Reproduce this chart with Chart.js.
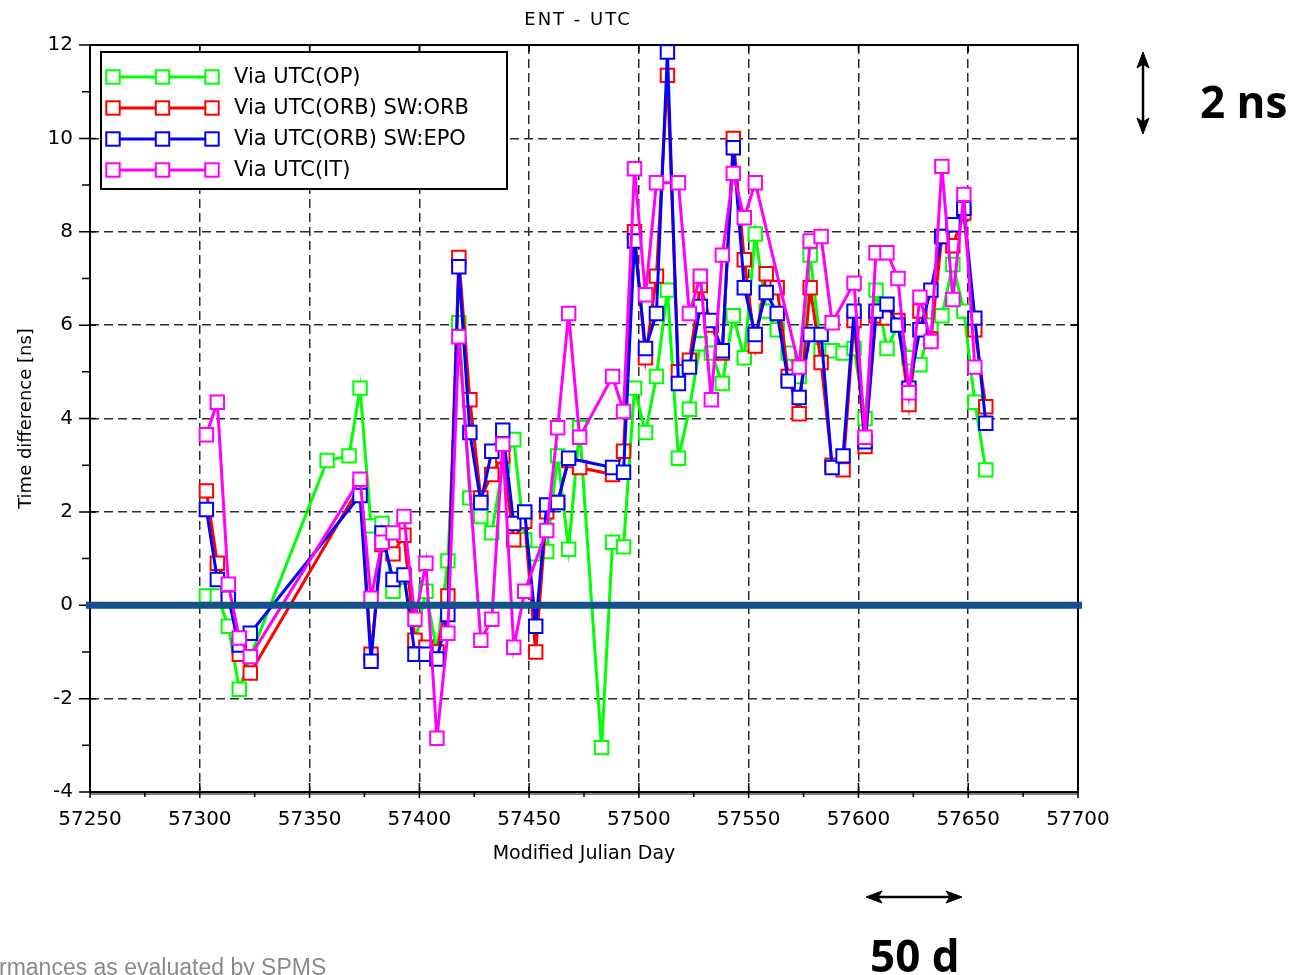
<!DOCTYPE html>
<html>
<head>
<meta charset="utf-8">
<title>ENT - UTC</title>
<script src="https://cdn.jsdelivr.net/npm/chart.js@4.4.1/dist/chart.umd.min.js"></script>
<style>
  html, body { margin: 0; padding: 0; background: #fff; }
  body { width: 1290px; height: 975px; position: relative; overflow: hidden; }
  #chart { position: absolute; left: 0; top: 0; }
  svg { position: absolute; left: 0; top: 0; }
  .note { position: absolute; font-family: "Open Sans", sans-serif; font-weight: 700; font-size: 44px; line-height: 1; color: #000; white-space: nowrap; }
  #footer { position: absolute; left: -1px; top: 956px; font-family: "Liberation Sans", Arial, sans-serif; font-size: 23px; line-height: 1; color: #8a8a8a; white-space: nowrap; }
</style>
</head>
<body>
<canvas id="chart" width="1290" height="975"></canvas>
<svg width="1290" height="975">
  <g stroke="#000" stroke-width="2.5" fill="#000">
    <line x1="1143" y1="60" x2="1143" y2="126"/>
    <path d="M1143,52 L1137,68 L1143,64 L1149,68 Z" stroke-width="1"/>
    <path d="M1143,134 L1137,118 L1143,122 L1149,118 Z" stroke-width="1"/>
    <line x1="874" y1="897" x2="954" y2="897"/>
    <path d="M866,897 L882,891 L878,897 L882,903 Z" stroke-width="1"/>
    <path d="M962,897 L946,891 L950,897 L946,903 Z" stroke-width="1"/>
  </g>
</svg>
<div class="note" style="left:1200px; top:79px">2 ns</div>
<div class="note" style="left:870px; top:933px">50 d</div>
<div id="footer">rmances as evaluated by SPMS</div>

<script>
// MJD sampling (5-day steps, with gaps)
const mjd = [57303, 57308, 57313, 57318, 57323, 57358, 57368,
    57373, 57378, 57383, 57388, 57393, 57398, 57403, 57408, 57413, 57418,
    57423, 57428, 57433, 57438, 57443, 57448, 57453, 57458, 57463, 57468, 57473,
    57483, 57488, 57493, 57498, 57503, 57508, 57513, 57518, 57523, 57528,
    57533, 57538, 57543, 57548, 57553, 57558, 57563, 57568, 57573, 57578,
    57583, 57588, 57593, 57598, 57603, 57608, 57613, 57618, 57623, 57628,
    57633, 57638, 57643, 57648, 57653, 57658];

// time difference [ns], null = no point for that series
const viaOP = [0.2, 0.2, -0.45, -1.8, -1.1, 3.1, 3.2,
    4.65, 1.7, 1.75, 0.3, 0.6, -0.8, 0.3, -1.0, 0.95, 6.05,
    2.3, 1.9, 1.55, 3.0, 3.55, 1.4, 1.1, 1.15, 3.2, 1.2, 3.8,
    -3.05, 1.35, 1.25, 4.65, 3.7, 4.9, 6.75, 3.15, 4.2, 5.6,
    5.4, 4.75, 6.2, 5.3, 7.95, 6.3, 5.9, 5.4, 4.9, 7.5,
    5.45, 5.45, 5.4, 5.5, 4.0, 6.75, 5.5, 6.0, 5.3, 5.15,
    6.0, 6.2, 7.3, 6.3, 4.35, 2.9];

const viaORB = [2.45, 0.9, 0.3, -1.05, -1.45, null, null,
    2.55, -1.05, 1.3, 1.1, 1.5, -0.75, -0.9, -1.0, 0.2, 7.45,
    4.4, 2.3, 2.8, 3.2, 1.4, 1.8, -1.0, 2.0, 2.2, 3.1, 2.95,
    null, 2.8, 3.3, 8.0, 5.3, 7.05, 11.35, 5.0, 5.25, 6.85,
    6.0, 5.4, 10.0, 7.4, 5.55, 7.1, 6.8, 4.9, 4.1, 6.8,
    5.2, 3.0, 2.9, 6.1, 3.4, 6.2, 6.15, 6.1, 4.3, 6.3,
    5.7, 7.9, 7.7, 8.4, 5.9, 4.25];

const viaEPO = [2.05, 0.55, 0.15, -0.85, -0.6, null, null,
    2.35, -1.2, 1.55, 0.55, 0.65, -1.05, -1.05, -1.15, -0.2, 7.25,
    3.7, 2.2, 3.3, 3.75, 1.75, 2.0, -0.45, 2.15, 2.2, 3.15, null,
    null, 2.95, 2.85, 7.8, 5.5, 6.25, 11.85, 4.75, 5.1, 6.4,
    6.1, 5.45, 9.8, 6.8, 5.8, 6.7, 6.25, 4.8, 4.45, 5.8,
    5.8, 2.95, 3.2, 6.3, 3.5, 6.3, 6.45, 6.0, 4.65, 5.9,
    6.75, 7.9, 8.15, 8.5, 6.15, 3.9];

const viaIT = [3.65, 4.35, 0.45, -0.7, -1.1, null, null,
    2.7, 0.15, 1.35, 1.55, 1.9, -0.3, 0.9, -2.85, -0.6, 5.75,
    null, -0.75, -0.3, 3.45, -0.9, 0.3, null, 1.6, 3.8, 6.25, 3.6,
    null, 4.9, 4.15, 9.35, 6.65, 9.05, null, 9.05, 6.25, 7.05,
    4.4, 7.5, 9.25, 8.3, 9.05, null, null, null, 5.1, 7.8,
    7.9, 6.05, null, 6.9, 3.6, 7.55, 7.55, 7.0, 4.55, 6.6,
    5.65, 9.4, 6.55, 8.8, 5.1, null];

const seriesNames = ['Via UTC(OP)', 'Via UTC(ORB) SW:ORB', 'Via UTC(ORB) SW:EPO', 'Via UTC(IT)'];
const seriesValues = [viaOP, viaORB, viaEPO, viaIT];
const seriesColors = ['#00ff00', '#ff0000', '#0000ff', '#ff00ff'];

const xMin = 57250, xMax = 57700, xMajor = 50, xMinor = 25;
const yMin = -4, yMax = 12, yMajor = 2, yMinor = 1;

const FONT = '"DejaVu Sans", Verdana, sans-serif';
Chart.defaults.font.family = FONT;
Chart.defaults.color = '#000';

function gridColor(min, max, step) {
    return (c) => {
        const v = c.tick ? c.tick.value : null;
        if (v === null || v <= min || v >= max) return 'rgba(0,0,0,0)';
        return Math.abs(v % step) < 1e-6 ? '#2a2a2a' : 'rgba(0,0,0,0)';
    };
}

// frame, tick marks, zero line, title and legend
const decorations = {
    id: 'decorations',
    beforeDatasetsDraw(chart) {
        const { ctx, chartArea: a, scales: { x, y } } = chart;
        ctx.save();
        ctx.strokeStyle = '#000';
        ctx.lineWidth = 1.5;
        ctx.beginPath();
        for (let v = xMin; v <= xMax; v += xMinor) {
            const px = x.getPixelForValue(v);
            if (v % xMajor === 0) {
                ctx.moveTo(px, a.bottom + 6); ctx.lineTo(px, a.bottom - 9);
                ctx.moveTo(px, a.top); ctx.lineTo(px, a.top + 7);
            } else {
                ctx.moveTo(px, a.bottom); ctx.lineTo(px, a.bottom + 5);
            }
        }
        for (let v = yMin; v <= yMax; v += yMinor) {
            const py = y.getPixelForValue(v);
            if (v % yMajor === 0) {
                ctx.moveTo(a.left - 11, py); ctx.lineTo(a.left + 6, py);
                ctx.moveTo(a.right, py); ctx.lineTo(a.right - 7, py);
            } else {
                ctx.moveTo(a.left - 8, py); ctx.lineTo(a.left, py);
            }
        }
        ctx.stroke();
        ctx.lineWidth = 2;
        ctx.strokeRect(a.left, a.top, a.right - a.left, a.bottom - a.top);
        ctx.lineWidth = 1;
        ctx.beginPath();
        ctx.moveTo(a.left, a.bottom + 2); ctx.lineTo(a.right, a.bottom + 2);
        ctx.stroke();
        ctx.restore();
    },
    afterDatasetsDraw(chart) {
        const { ctx, chartArea: a, scales: { y } } = chart;
        ctx.save();
        // highlighted zero line
        const y0 = y.getPixelForValue(0);
        ctx.fillStyle = '#14508b';
        ctx.fillRect(a.left - 4, y0 - 3.5, a.right - a.left + 8, 7);

        // title
        ctx.fillStyle = '#000';
        ctx.font = '18px ' + FONT;
        ctx.textAlign = 'center';
        ctx.textBaseline = 'middle';
        try { ctx.letterSpacing = '2px'; } catch (e) {}
        ctx.fillText('ENT - UTC', (a.left + a.right) / 2 - 6, 20);
        try { ctx.letterSpacing = '0px'; } catch (e) {}

        // legend box
        const bx = a.left + 11, by = a.top + 7, bw = 406, bh = 137;
        ctx.fillStyle = '#fff';
        ctx.fillRect(bx, by, bw, bh);
        ctx.strokeStyle = '#000';
        ctx.lineWidth = 2;
        ctx.strokeRect(bx, by, bw, bh);
        ctx.textAlign = 'left';
        ctx.font = '21px ' + FONT;
        seriesNames.forEach((name, i) => {
            const ry = by + 25 + i * 31;
            const x0 = bx + 12, x1 = bx + 111;
            ctx.strokeStyle = seriesColors[i];
            ctx.lineWidth = 3;
            ctx.beginPath();
            ctx.moveTo(x0, ry); ctx.lineTo(x1, ry);
            ctx.stroke();
            ctx.lineWidth = 2;
            [x0, (x0 + x1) / 2, x1].forEach(sx => {
                ctx.fillStyle = '#fff';
                ctx.fillRect(sx - 6.7, ry - 6.7, 13.4, 13.4);
                ctx.strokeRect(sx - 6.7, ry - 6.7, 13.4, 13.4);
            });
            ctx.fillStyle = '#000';
            ctx.fillText(name, bx + 133, ry + 1);
        });
        ctx.restore();
    }
};

const datasets = seriesNames.map((name, i) => ({
    label: name,
    data: mjd.map((m, k) => ({ x: m, y: seriesValues[i][k] })),
    borderColor: seriesColors[i],
    backgroundColor: '#fff',
    borderWidth: 3,
    pointStyle: 'rect',
    pointRadius: 9.5,
    pointBorderWidth: 2,
    pointBorderColor: seriesColors[i],
    pointBackgroundColor: '#fff',
    spanGaps: true,
    tension: 0,
    order: seriesNames.length - i
}));

new Chart(document.getElementById('chart'), {
    type: 'line',
    data: { datasets: datasets },
    options: {
        responsive: false,
        animation: false,
        devicePixelRatio: 1,
        layout: { padding: { left: 0, top: 45, right: 212, bottom: 0 } },
        plugins: {
            legend: { display: false },
            title: { display: false },
            tooltip: { enabled: false }
        },
        scales: {
            x: {
                type: 'linear',
                min: xMin,
                max: xMax,
                afterFit: s => { s.height = 183; },
                border: { display: false, dash: [9, 5] },
                grid: { color: gridColor(xMin, xMax, xMajor), lineWidth: 1.5, drawTicks: false },
                ticks: {
                    stepSize: xMinor,
                    autoSkip: false,
                    maxRotation: 0,
                    padding: 16,
                    font: { size: 20 },
                    color: '#000',
                    callback: v => (v % xMajor === 0 ? String(v) : '')
                },
                title: {
                    display: true,
                    text: 'Modified Julian Day',
                    font: { size: 19 },
                    color: '#000',
                    padding: { top: 0, bottom: 110 }
                }
            },
            y: {
                min: yMin,
                max: yMax,
                afterFit: s => { s.width = 90; },
                border: { display: false, dash: [9, 5] },
                grid: { color: gridColor(yMin, yMax, yMajor), lineWidth: 1.5, drawTicks: false },
                ticks: {
                    stepSize: yMinor,
                    autoSkip: false,
                    padding: 17,
                    font: { size: 20 },
                    color: '#000',
                    callback: v => (v % yMajor === 0 ? String(v) : '')
                },
                title: {
                    display: true,
                    text: 'Time difference [ns]',
                    font: { size: 18 },
                    color: '#000',
                    padding: { top: 16, bottom: 0 }
                }
            }
        }
    },
    plugins: [decorations]
});
</script>
</body>
</html>
